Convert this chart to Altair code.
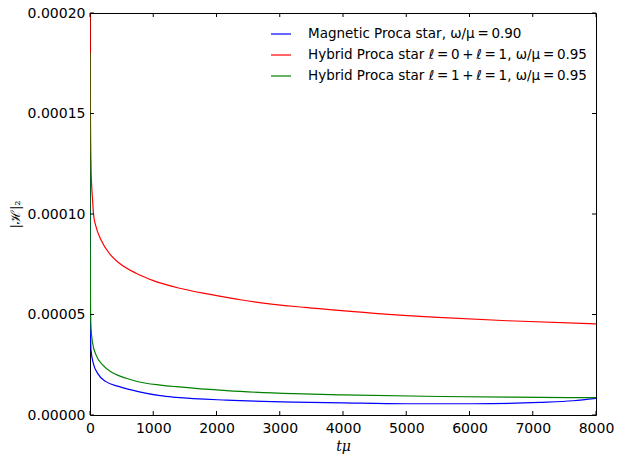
import altair as alt
import pandas as pd

# ---- data ----
TS = "\u2009"  # thin space, as in the mathtext labels
series_names = [
    f"Magnetic Proca star, ω/μ{TS}={TS}0.90",
    f"Hybrid Proca star ℓ{TS}={TS}0{TS}+{TS}ℓ{TS}={TS}1, ω/μ{TS}={TS}0.95",
    f"Hybrid Proca star ℓ{TS}={TS}1{TS}+{TS}ℓ{TS}={TS}1, ω/μ{TS}={TS}0.95",
]
series_colors = ["#0000ff", "#ff0000", "#008000"]

t_blue = [0, 3, 8, 16, 53, 121, 253, 464, 780, 1110, 1360, 2160, 3215,
          4000, 5000, 6060, 7115, 7640, 8000]
v_blue = [1.25e-4, 6.0e-5, 4.0e-5, 3.23e-5, 2.57e-5, 2.07e-5, 1.66e-5, 1.41e-5,
          1.15e-5, 9.6e-6, 8.8e-6, 7.4e-6, 6.4e-6, 6.0e-6, 5.6e-6,
          5.6e-6, 6.3e-6, 7.1e-6, 8.3e-6]

t_red = [0, 4, 8, 16, 28, 42, 55, 95, 175, 305, 465, 730, 990, 1400, 1900,
         2400, 3400, 4500, 5500, 6600, 8000]
v_red = [2.3e-4, 1.7e-4, 1.45e-4, 1.24e-4, 1.13e-4, 1.065e-4, 1.0e-4, 9.37e-5,
         8.71e-5, 8.04e-5, 7.55e-5, 7.05e-5, 6.7e-5, 6.32e-5, 6.0e-5, 5.72e-5,
         5.35e-5, 5.06e-5, 4.86e-5, 4.69e-5, 4.53e-5]

t_green = [0, 3, 8, 16, 42, 95, 200, 358, 570, 885, 1110, 1360, 2160,
           3215, 4000, 5534, 7115, 8000]
v_green = [1.8e-4, 9.0e-5, 5.5e-5, 4.3e-5, 3.57e-5, 2.99e-5, 2.49e-5, 2.10e-5,
           1.83e-5, 1.58e-5, 1.49e-5, 1.41e-5, 1.21e-5, 1.06e-5,
           1.0e-5, 9.2e-6, 8.8e-6, 8.6e-6]

x_ticks = [0, 1000, 2000, 3000, 4000, 5000, 6000, 7000, 8000]
y_ticks = [0.0, 0.00005, 0.00010, 0.00015, 0.00020]

# ---- tables ----
rows = []
for name, ts, vs in zip(series_names, [t_blue, t_red, t_green], [v_blue, v_red, v_green]):
    for t, v in zip(ts, vs):
        rows.append({"t": t, "v": v, "series": name})
df = pd.DataFrame(rows)
xt = pd.DataFrame({"t": x_ticks})
yt = pd.DataFrame({"v": y_ticks})

W, H = 506, 402
TL = 4  # inward tick length

xscale = alt.Scale(domain=[0, 8000], nice=False, zero=False)
yscale = alt.Scale(domain=[0, 0.0002], nice=False, zero=False)

xaxis = alt.Axis(values=x_ticks, title="tμ", format="d",
                 titleFont="DejaVu Serif", titleFontStyle="italic",
                 titleFontSize=14, titleFontWeight="normal",
                 titleX=W / 2, titleY=31, titleBaseline="middle",
                 titleAlign="center")
yaxis = alt.Axis(values=y_ticks, title="|ℋ|₂", format=".5f",
                 titleFont="DejaVu Serif", titleFontSize=13,
                 titleFontWeight="normal", titleAngle=270,
                 titleX=-75, titleY=H / 2, titleBaseline="middle",
                 titleAlign="center")

lines = alt.Chart(df).mark_line(clip=True, strokeWidth=1.2, interpolate="monotone").encode(
    x=alt.X("t:Q", scale=xscale, axis=xaxis),
    y=alt.Y("v:Q", scale=yscale, axis=yaxis),
    color=alt.Color("series:N",
                    scale=alt.Scale(domain=series_names, range=series_colors),
                    legend=alt.Legend(orient="none", legendX=180, legendY=10,
                                      title=None, symbolType="stroke",
                                      symbolSize=400, symbolStrokeWidth=1.2,
                                      labelFont="DejaVu Sans", labelFontSize=13.5,
                                      labelColor="black", labelOffset=16,
                                      rowPadding=3, padding=0,
                                      labelLimit=400)),
)

tick_color = "black"
bottom_ticks = alt.Chart(xt).mark_rule(color=tick_color, strokeWidth=1).encode(
    x=alt.X("t:Q", scale=xscale, axis=xaxis), y=alt.value(H), y2=alt.value(H - TL))
top_ticks = alt.Chart(xt).mark_rule(color=tick_color, strokeWidth=1).encode(
    x=alt.X("t:Q", scale=xscale, axis=xaxis), y=alt.value(0), y2=alt.value(TL))
left_ticks = alt.Chart(yt).mark_rule(color=tick_color, strokeWidth=1).encode(
    y=alt.Y("v:Q", scale=yscale, axis=yaxis), x=alt.value(0), x2=alt.value(TL))
right_ticks = alt.Chart(yt).mark_rule(color=tick_color, strokeWidth=1).encode(
    y=alt.Y("v:Q", scale=yscale, axis=yaxis), x=alt.value(W), x2=alt.value(W - TL))

chart = alt.layer(lines, bottom_ticks, top_ticks, left_ticks, right_ticks).properties(
    width=W, height=H,
    autosize=alt.AutoSizeParams(type="none"),
    padding={"left": 90, "top": 13, "right": 25, "bottom": 44},
    background="white",
).configure_view(
    stroke="black", strokeWidth=1
).configure_axis(
    domain=False, ticks=False, grid=False,
    labelFont="DejaVu Sans", labelFontSize=14, labelColor="black",
    labelPadding=6, labelFlush=False, labelOverlap=False, labelBound=False,
    titleColor="black",
).configure_axisY(labelPadding=5)

chart.save("out.html", embed_options={"renderer": "svg", "actions": False})
